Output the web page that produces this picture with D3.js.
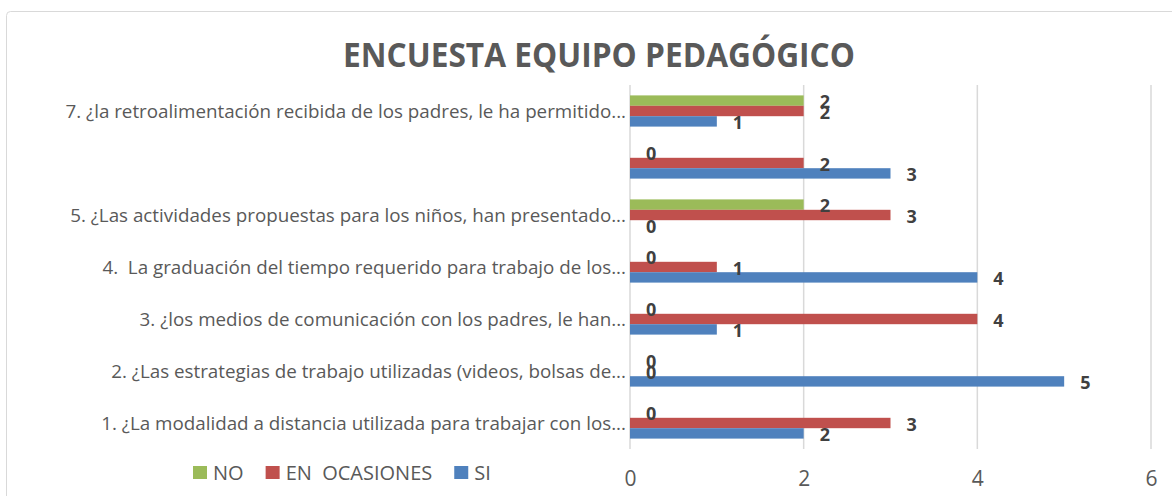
<!DOCTYPE html>
<html>
<head>
<meta charset="utf-8">
<script src="https://cdn.jsdelivr.net/npm/d3@7"></script>
<style>
  body { margin: 0; background: #fff; }
  svg { display: block; font-family: "Open Sans", Lato, sans-serif; }
</style>
</head>
<body>
<svg width="1172" height="496"></svg>
<script>
const width = 1172;
const height = 496;

// survey questions, bottom to top in the picture
const categories = [
  "1. ¿La modalidad a distancia utilizada para trabajar con los...",
  "2. ¿Las estrategias de trabajo utilizadas (videos, bolsas de...",
  "3. ¿los medios de comunicación con los padres, le han...",
  "4.  La graduación del tiempo requerido para trabajo de los...",
  "5. ¿Las actividades propuestas para los niños, han presentado...",
  "",
  "7. ¿la retroalimentación recibida de los padres, le ha permitido..."
];
const seriesNames = ["NO", "EN  OCASIONES", "SI"];
const noValues = [0, 0, 0, 0, 2, 0, 2];
const ocasionesValues = [3, 0, 4, 1, 3, 2, 2];
const siValues = [2, 5, 1, 4, 0, 3, 1];
const xTicks = [0, 2, 4, 6];
const colors = ["#9bbb59", "#c0504d", "#4f81bd"];

const seriesValues = [noValues, ocasionesValues, siValues];
const rows = categories.map((c, i) => ({
  id: i,
  label: c,
  values: seriesNames.map((s, j) => ({ key: s, value: seriesValues[j][i], idx: j }))
}));

const svg = d3.select("svg");

// outer chart frame
svg.append("rect")
  .attr("x", 6.5).attr("y", 11.5)
  .attr("width", 1180).attr("height", 520)
  .attr("rx", 4)
  .attr("fill", "#fff")
  .attr("stroke", "#d9d9d9");

svg.append("text")
  .attr("x", 599).attr("y", 67)
  .attr("text-anchor", "middle")
  .attr("font-size", 34)
  .attr("font-weight", "bold")
  .attr("fill", "#595959")
  .attr("textLength", 512)
  .attr("lengthAdjust", "spacingAndGlyphs")
  .text("ENCUESTA EQUIPO PEDAGÓGICO");

const x = d3.scaleLinear().domain([0, 6]).range([630, 1151]);

const y = d3.scaleBand()
  .domain(rows.map(d => d.id).reverse())
  .range([85, 449])
  .paddingInner(0.4)
  .paddingOuter(0.2);

const y1 = d3.scaleBand()
  .domain(seriesNames)
  .range([0, y.bandwidth()]);

// gridlines
svg.append("g")
  .selectAll("line")
  .data(xTicks)
  .join("line")
  .attr("x1", d => x(d)).attr("x2", d => x(d))
  .attr("y1", 85).attr("y2", 449)
  .attr("stroke", "#d9d9d9")
  .attr("stroke-width", 1.5);

const xAxis = svg.append("g")
  .attr("transform", "translate(0,449)")
  .call(d3.axisBottom(x).tickValues(xTicks).tickFormat(d3.format("d")).tickSize(0).tickPadding(22));
xAxis.select(".domain").remove();
xAxis.selectAll("text")
  .attr("font-size", 21)
  .attr("font-family", "'Open Sans', Lato, sans-serif")
  .attr("fill", "#595959");

const yAxis = svg.append("g")
  .attr("transform", "translate(626,0)")
  .call(d3.axisLeft(y).tickFormat(i => categories[i]).tickSize(0).tickPadding(0));
yAxis.select(".domain").remove();
yAxis.selectAll("text")
  .attr("font-size", 18.8)
  .attr("font-family", "'Open Sans', Lato, sans-serif")
  .attr("fill", "#595959")
  .attr("dy", "0.35em")
  .style("white-space", "pre");

const group = svg.append("g")
  .selectAll("g")
  .data(rows)
  .join("g")
  .attr("transform", d => `translate(0,${y(d.id)})`);

group.selectAll("rect")
  .data(d => d.values)
  .join("rect")
  .attr("x", x(0))
  .attr("y", d => y1(d.key))
  .attr("width", d => x(d.value) - x(0))
  .attr("height", y1.bandwidth())
  .attr("fill", d => colors[d.idx]);

group.selectAll("text")
  .data(d => d.values)
  .join("text")
  .attr("x", d => x(d.value) + 16)
  .attr("y", d => y1(d.key) + y1.bandwidth() / 2 + 1.5)
  .attr("dy", "0.35em")
  .attr("font-size", 18)
  .attr("font-weight", "bold")
  .attr("fill", "#404040")
  .text(d => d.value);

// legend
const legend = svg.append("g").attr("transform", "translate(193,466)");
let lx = 0;
seriesNames.forEach((s, j) => {
  legend.append("rect")
    .attr("x", lx).attr("y", 0)
    .attr("width", 14).attr("height", 13)
    .attr("fill", colors[j]);
  const t = legend.append("text")
    .attr("x", lx + 20).attr("y", 7)
    .attr("dy", "0.35em")
    .attr("font-size", 20)
    .attr("fill", "#595959")
    .style("white-space", "pre")
    .text(s);
  lx += 20 + t.node().getComputedTextLength() + 22;
});
</script>
</body>
</html>
